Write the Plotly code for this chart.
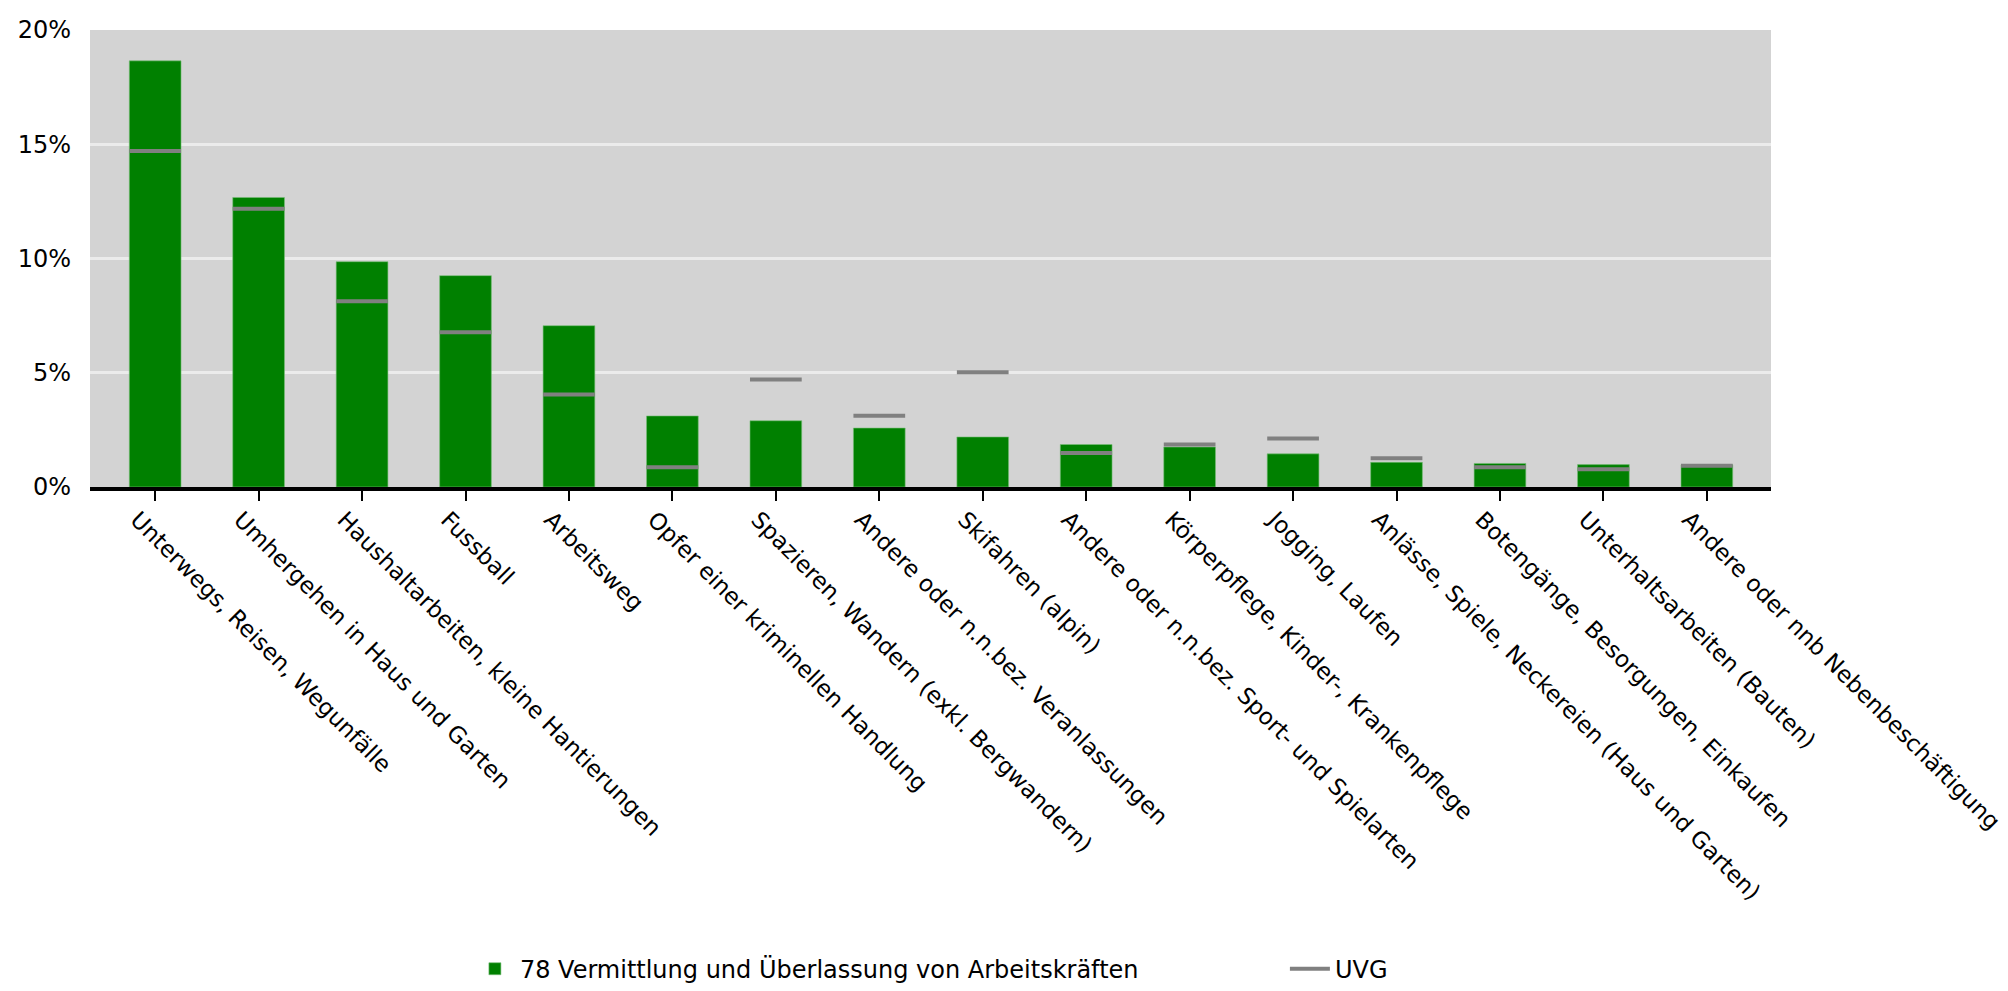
import plotly.graph_objects as go

categories = [
    "Unterwegs, Reisen, Wegunfälle",
    "Umhergehen in Haus und Garten",
    "Haushaltarbeiten, kleine Hantierungen",
    "Fussball",
    "Arbeitsweg",
    "Opfer einer kriminellen Handlung",
    "Spazieren, Wandern (exkl. Bergwandern)",
    "Andere oder n.n.bez. Veranlassungen",
    "Skifahren (alpin)",
    "Andere oder n.n.bez. Sport- und Spielarten",
    "Körperpflege, Kinder-, Krankenpflege",
    "Jogging, Laufen",
    "Anlässe, Spiele, Neckereien (Haus und Garten)",
    "Botengänge, Besorgungen, Einkaufen",
    "Unterhaltsarbeiten (Bauten)",
    "Andere oder nnb Nebenbeschäftigung",
]
branche_values = [18.65, 12.67, 9.86, 9.25, 7.06, 3.11, 2.90, 2.58, 2.19, 1.86,
                  1.75, 1.45, 1.08, 1.03, 0.98, 0.97]
uvg_values = [14.71, 12.18, 8.13, 6.77, 4.05, 0.86, 4.71, 3.12, 5.02, 1.49,
              1.86, 2.12, 1.26, 0.86, 0.78, 0.93]
y_ticks = [0, 5, 10, 15, 20]
y_tick_labels = ["0%", "5%", "10%", "15%", "20%"]

series_bar_name = "78 Vermittlung und Überlassung von Arbeitskräften"
series_line_name = "UVG"

FONT = "DejaVu Sans"
BAR_W = 0.5
idx = list(range(len(categories)))

# UVG reference marks: short horizontal segments across each bar
seg_x, seg_y = [], []
for i, v in zip(idx, uvg_values):
    seg_x += [i - BAR_W / 2, i + BAR_W / 2, None]
    seg_y += [v, v, None]

fig = go.Figure()
fig.add_trace(go.Bar(
    x=idx, y=branche_values, width=BAR_W, name=series_bar_name,
    marker=dict(color="#008000", line=dict(color="rgba(120,190,120,0.6)", width=1)),
))
fig.add_trace(go.Scatter(
    x=seg_x, y=seg_y, mode="lines", name=series_line_name,
    line=dict(color="#808080", width=4), connectgaps=False,
))

fig.update_layout(
    width=2008, height=991,
    margin=dict(l=82, r=245, t=22, b=512, autoexpand=False),
    paper_bgcolor="white", plot_bgcolor="#d3d3d3",
    font=dict(family=FONT, size=23, color="black"),
    showlegend=True,
    legend=dict(orientation="h", x=0.226, xanchor="left", y=-1.055, yanchor="middle",
                font=dict(size=24), entrywidth=760, entrywidthmode="pixels",
                itemwidth=40, bgcolor="rgba(0,0,0,0)"),
)
fig.update_xaxes(
    range=[-0.63, 15.62], tickmode="array", tickvals=idx, ticktext=categories,
    tickangle=45, ticks="outside", ticklen=10, tickwidth=2, tickcolor="black",
    showline=True, linecolor="black", linewidth=4, showgrid=False,
    zeroline=False, automargin=False, tickfont=dict(size=23),
    ticklabelshift=-18, ticklabelstandoff=-4,
)
fig.update_yaxes(
    range=[0, 20], tickmode="array", tickvals=y_ticks, ticktext=y_tick_labels,
    showgrid=True, gridcolor="#ebebeb", gridwidth=3, zeroline=False,
    showline=False, ticks="", automargin=False, tickfont=dict(size=24),
    ticklabelstandoff=18,
)

fig.write_html("out.html")
